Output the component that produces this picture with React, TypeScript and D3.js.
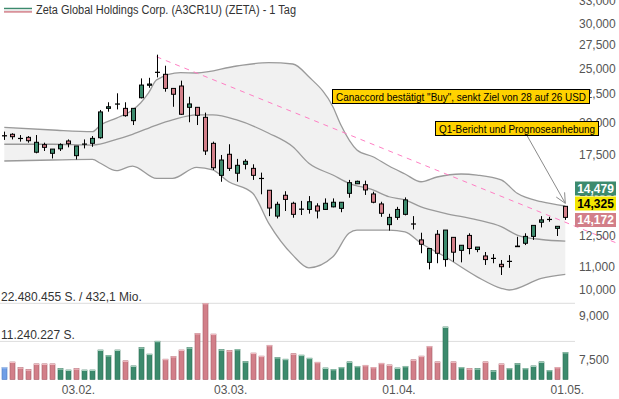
import React from 'react';
import * as d3 from 'd3';

const title = 'Zeta Global Holdings Corp. (A3CR1U) (ZETA) - 1 Tag';

const dates = [
  '21.01.', '22.01.', '23.01.', '24.01.', '27.01.', '28.01.', '29.01.', '30.01.', '31.01.',
  '03.02.', '04.02.', '05.02.', '06.02.', '07.02.', '10.02.', '11.02.', '12.02.', '13.02.', '14.02.',
  '18.02.', '19.02.', '20.02.', '21.02.', '24.02.', '25.02.', '26.02.', '27.02.', '28.02.',
  '03.03.', '04.03.', '05.03.', '06.03.', '07.03.', '10.03.', '11.03.', '12.03.', '13.03.', '14.03.',
  '17.03.', '18.03.', '19.03.', '20.03.', '21.03.', '24.03.', '25.03.', '26.03.', '27.03.', '28.03.', '31.03.',
  '01.04.', '02.04.', '03.04.', '04.04.', '07.04.', '08.04.', '09.04.', '10.04.', '11.04.', '14.04.',
  '15.04.', '16.04.', '17.04.', '21.04.', '22.04.', '23.04.', '24.04.', '25.04.', '28.04.', '29.04.', '30.04.',
  '01.05.',
];

const opens = [
  18.92, 19.03, 18.71, 18.79, 17.67, 18.23, 17.59, 17.92, 18.51, 17.42,
  18.27, 18.33, 18.76, 21.18, 21.56, 21.18, 20.13, 22.13, 23.30, 24.57,
  24.38, 23.00, 23.23, 21.27, 21.27, 20.41, 18.33, 16.06, 17.52, 16.20,
  16.81, 16.53, 15.86, 15.10, 13.57, 14.79, 14.31, 13.96, 13.95, 14.15,
  13.95, 14.10, 14.01, 14.91, 15.51, 15.45, 14.87, 14.27, 13.10, 13.50,
  13.67, 13.14, 12.30, 11.21, 12.59, 11.34, 12.43, 11.78, 12.53, 11.82,
  11.51, 11.40, 11.12, 11.25, 11.96, 12.13, 12.48, 13.23, 13.38, 12.90,
  14.13,
];
const highs = [
  19.24, 19.11, 18.97, 18.89, 18.97, 18.38, 17.90, 18.33, 18.63, 18.13,
  18.63, 18.89, 21.04, 21.72, 22.54, 21.72, 21.18, 23.97, 24.03, 26.44,
  25.26, 23.00, 23.75, 22.22, 21.30, 20.81, 18.46, 17.47, 18.26, 17.19,
  17.17, 16.81, 16.24, 15.10, 14.40, 15.04, 14.40, 14.45, 14.74, 14.31,
  14.60, 14.60, 14.37, 15.76, 15.71, 15.71, 15.01, 14.40, 13.70, 14.10,
  14.66, 13.57, 12.67, 11.87, 12.81, 12.81, 12.43, 12.03, 12.64, 11.94,
  11.70, 11.60, 11.32, 11.55, 12.46, 12.64, 13.06, 13.57, 13.53, 13.01,
  14.13,
];
const lows = [
  18.59, 18.63, 18.46, 18.38, 17.59, 17.76, 17.22, 17.76, 18.03, 17.15,
  17.95, 18.07, 18.68, 20.89, 21.09, 20.46, 19.77, 22.07, 23.06, 24.07,
  22.69, 21.32, 20.61, 20.00, 19.77, 17.47, 16.42, 15.64, 16.35, 15.64,
  16.46, 15.76, 14.85, 13.57, 13.44, 13.86, 13.48, 13.63, 13.71, 13.44,
  13.92, 14.07, 13.79, 14.64, 15.50, 14.81, 14.31, 13.53, 12.78, 13.36,
  13.61, 12.84, 11.64, 10.89, 11.17, 11.01, 11.24, 11.21, 11.59, 11.69,
  11.09, 11.17, 10.64, 10.96, 11.95, 12.04, 12.30, 12.95, 13.26, 12.50,
  13.36,
];
const closes = [
  18.90, 18.84, 18.70, 18.53, 18.41, 18.03, 17.90, 18.23, 18.30, 18.13,
  18.28, 18.71, 20.87, 21.32, 21.57, 20.55, 21.18, 23.32, 23.42, 24.59,
  23.00, 22.45, 20.67, 21.57, 20.58, 17.76, 16.57, 17.11, 16.53, 16.74,
  17.02, 16.06, 15.85, 14.03, 14.25, 14.54, 13.67, 13.97, 14.40, 13.86,
  14.31, 14.37, 14.37, 15.58, 15.67, 15.12, 14.37, 13.73, 13.50, 13.95,
  14.51, 13.13, 12.08, 11.87, 11.64, 12.81, 11.69, 12.03, 11.87, 11.94,
  11.34, 11.39, 11.01, 11.26, 11.99, 12.48, 13.06, 13.36, 13.39, 13.01,
  13.50,
];

// volume in millions of shares
const volumes = [
  3.6, 5.16, 3.5, 2.9, 4.6, 4.6, 4.6, 3.2, 2.8, 3.2,
  2.8, 2.8, 8.7, 7.1, 8.7, 5.5, 4.0, 9.4, 7.5, 11.3,
  6.0, 6.8, 8.7, 9.4, 13.6, 22.48, 13.4, 8.8, 8.5, 8.9,
  5.3, 7.8, 6.9, 10.1, 6.5, 6.0, 7.6, 7.2, 6.3, 5.1,
  3.4, 3.0, 3.6, 5.2, 3.9, 4.2, 3.6, 4.8, 4.3, 3.4,
  3.9, 5.8, 6.9, 9.8, 5.2, 15.5, 5.2, 3.6, 3.2, 3.2,
  5.2, 2.6, 4.6, 3.3, 4.7, 3.3, 4.0, 5.2, 2.7, 3.6,
  8.0,
];
const volDir = [
  'n', 'd', 'd', 'd', 'd', 'd', 'd', 'u', 'u', 'd',
  'u', 'u', 'u', 'u', 'u', 'd', 'u', 'u', 'u', 'u',
  'd', 'd', 'd', 'u', 'd', 'd', 'd', 'u', 'd', 'u',
  'u', 'd', 'd', 'd', 'u', 'u', 'd', 'u', 'u', 'd',
  'u', 'u', 'u', 'u', 'u', 'd', 'd', 'd', 'd', 'u',
  'u', 'd', 'd', 'd', 'd', 'u', 'd', 'u', 'd', 'u',
  'd', 'u', 'd', 'u', 'u', 'u', 'u', 'u', 'u', 'd',
  'u',
];
const volMax = 22480455;
const volHalf = 11240227;
const turnoverLabel = '432,1 Mio.';

// Bollinger bands: [bar index, price]
const upperBand: [number, number][] = [
  [0, 19.58], [6, 19.37], [11, 19.24], [12, 19.77], [14, 20.35], [16, 21.04], [17, 21.66],
  [18, 22.57], [19, 23.82], [22, 24.54], [24, 24.51], [29, 25.23], [33, 25.58], [36, 25.44],
  [38, 24.13], [41, 21.32], [42, 19.77], [44, 17.84], [46, 17.34], [48, 16.69], [50, 16.15],
  [52, 15.64], [54, 15.95], [57, 16.15], [59, 16.08], [62, 15.76], [64, 14.91], [67, 14.40],
  [70, 14.15],
];
const middleBand: [number, number][] = [
  [0, 18.26], [6, 18.26], [11, 18.20], [14, 18.63], [16, 19.03], [19, 19.77], [21, 20.19],
  [24, 20.61], [26, 20.61], [29, 20.19], [33, 19.11], [36, 18.07], [38, 16.88], [41, 16.08],
  [43, 15.54], [46, 15.12], [48, 14.70], [50, 14.51], [52, 14.10], [55, 13.73], [59, 13.36],
  [62, 12.99], [64, 12.55], [67, 12.32], [70, 12.24],
];
const lowerBand: [number, number][] = [
  [0, 17.04], [6, 17.11], [11, 17.15], [12, 16.88], [14, 16.37], [16, 16.69], [19, 15.86],
  [21, 15.86], [24, 16.60], [26, 16.42], [28, 15.64], [31, 14.91], [33, 13.17], [36, 11.55],
  [38, 10.96], [41, 11.47], [43, 12.64], [44, 12.81], [48, 12.81], [50, 12.71], [52, 12.13],
  [55, 11.47], [59, 10.56], [62, 10.07], [63, 10.0], [67, 10.49], [70, 10.67],
];

const trendPts: [number, number][] = [[19, 26.21], [70, 13.23]];

const priceTicks = [33, 30, 27.5, 25, 22.5, 20, 17.5, 15, 12.5, 11, 10, 9, 7.5];
const xTickDates = ['03.02.', '03.03.', '01.04.', '01.05.'];

const annotations = [
  { text: 'Canaccord bestätigt "Buy", senkt Ziel von 28 auf 26 USD' },
  { text: 'Q1-Bericht und Prognoseanhebung' },
];
const quoteLabels = [
  { value: 14.479, kind: 'bid' },
  { value: 14.325, kind: 'last' },
  { value: 14.172, kind: 'ask' },
];

const de = d3.formatLocale({ decimal: ',', thousands: '.', grouping: [3], currency: ['', '€'] });
const fmtPrice = de.format(',.3f');
const fmtInt = de.format(',.0f');

const FONT = 'Arial, "Liberation Sans", Helvetica, sans-serif';
const GREEN = '#3c8a6d';
const PINK = '#d27f89';

export default function App() {
  const W = 619;
  const H = 399;
  const x = d3.scalePoint<string>().domain(dates).range([4.3, 565.3]);
  const y = d3.scaleLog().domain([10, 30]).range([290, 24.1]);
  const yv = d3.scaleLinear().domain([0, volMax / 1e6]).range([379.5, 303.3]);

  const xi = (i: number) => x(dates[i]) as number;

  const line = d3
    .line<[number, number]>()
    .x((d) => xi(d[0]))
    .y((d) => y(d[1]))
    .curve(d3.curveMonotoneX);

  const upperPath = line(upperBand) || '';
  const lowerPath = line(lowerBand) || '';
  const lowerRev = line([...lowerBand].reverse()) || '';
  const areaPath = upperPath + lowerRev.replace(/^M/, 'L') + 'Z';
  const middlePath = line(middleBand) || '';

  const tx1 = xi(trendPts[0][0]);
  const ty1 = y(trendPts[0][1]);
  const tx2 = xi(trendPts[1][0]);
  const ty2 = y(trendPts[1][1]);
  const txEnd = W;
  const tyEnd = ty1 + ((ty2 - ty1) / (tx2 - tx1)) * (txEnd - tx1);

  const lastY = y(quoteLabels[1].value);
  const labelBoxes = [
    { top: lastY - 21.5, fill: GREEN, color: '#fff' },
    { top: lastY - 6.5, fill: '#f2e600', color: '#000' },
    { top: lastY + 10, fill: PINK, color: '#fff' },
  ];

  const lastIdx = dates.length - 1;
  const arrowTipX = xi(lastIdx);
  const arrowTipY = y(highs[lastIdx]) - 3;
  const arrowStartX = 527;
  const arrowStartY = 135.5;
  const ang = Math.atan2(arrowTipY - arrowStartY, arrowTipX - arrowStartX);
  const ah = 11;
  const aw = 0.45;

  return (
    <svg
      width={W}
      height={H}
      style={{ position: 'absolute', left: 0, top: 0, background: '#fff', fontFamily: FONT }}
    >
      {/* title & legend */}
      <line x1={4} x2={32} y1={8.5} y2={8.5} stroke={GREEN} strokeWidth={1.5} />
      <line x1={4} x2={32} y1={10.2} y2={10.2} stroke="#e6e6e6" strokeWidth={1.5} />
      <line x1={4} x2={32} y1={11.9} y2={11.9} stroke={PINK} strokeWidth={1.5} />
      <text x={36} y={13.5} fontSize={12} fill="#333" textLength={260} lengthAdjust="spacingAndGlyphs">
        {title}
      </text>

      {/* Bollinger band */}
      <path d={areaPath} fill="#f1f1f1" stroke="none" />
      <path d={upperPath} fill="none" stroke="#9a9a9a" strokeWidth={1.3} />
      <path d={lowerPath} fill="none" stroke="#9a9a9a" strokeWidth={1.3} />
      <path d={middlePath} fill="none" stroke="#9a9a9a" strokeWidth={1.3} />

      {/* trendline */}
      <line
        x1={tx1}
        y1={ty1}
        x2={txEnd}
        y2={tyEnd}
        stroke="#ff7fc4"
        strokeWidth={1}
        strokeDasharray="5,5"
      />

      {/* volume grid */}
      <line x1={0} x2={575} y1={yv(volMax / 1e6)} y2={yv(volMax / 1e6)} stroke="#dddddd" />
      <line x1={0} x2={575} y1={yv(volHalf / 1e6)} y2={yv(volHalf / 1e6)} stroke="#dddddd" />
      <text x={1} y={yv(volMax / 1e6) - 2} fontSize={12} fill="#333">
        {`${fmtInt(volMax)} S. / ${turnoverLabel}`}
      </text>
      <text x={1} y={yv(volHalf / 1e6) - 2} fontSize={12} fill="#333">
        {`${fmtInt(volHalf)} S.`}
      </text>

      {/* volume bars */}
      {volumes.map((v, i) => {
        const cx = Math.round(xi(i));
        const top = yv(v);
        const base = yv(0);
        const dir = volDir[i];
        const fill = dir === 'u' ? GREEN : dir === 'd' ? PINK : '#6f9ee6';
        const stroke = dir === 'u' ? '#2c6e55' : dir === 'd' ? '#a65a64' : '#4a78c0';
        const cap = dir === 'u' ? '#a9d3c0' : dir === 'd' ? '#f2c0c6' : '#b8d0f4';
        return (
          <g key={'v' + i}>
            <rect x={cx - 2} y={top} width={5} height={base - top} fill={fill} stroke={stroke} strokeWidth={0.6} />
            <rect x={cx - 2} y={top} width={5} height={1} fill={cap} />
          </g>
        );
      })}

      {/* candles */}
      {dates.map((d, i) => {
        const cx = Math.round(xi(i)) + 0.5;
        const o = opens[i];
        const c = closes[i];
        const yo = y(o);
        const yc = y(c);
        const top = Math.min(yo, yc);
        const bot = Math.max(yo, yc);
        const up = c >= o;
        return (
          <g key={'c' + i}>
            <line x1={cx} x2={cx} y1={y(highs[i])} y2={y(lows[i])} stroke="#000" strokeWidth={1} />
            <rect
              x={cx - 2}
              y={top}
              width={4}
              height={Math.max(0.2, bot - top)}
              fill={up ? GREEN : PINK}
              stroke="#000"
              strokeWidth={1}
            />
          </g>
        );
      })}

      {/* arrow from annotation */}
      <line x1={arrowStartX} y1={arrowStartY} x2={arrowTipX} y2={arrowTipY} stroke="#8a8a8a" strokeWidth={1} />
      <polyline
        points={`${arrowTipX - ah * Math.cos(ang - aw)},${arrowTipY - ah * Math.sin(ang - aw)} ${arrowTipX},${arrowTipY} ${
          arrowTipX - ah * Math.cos(ang + aw)
        },${arrowTipY - ah * Math.sin(ang + aw)}`}
        fill="none"
        stroke="#8a8a8a"
        strokeWidth={1}
      />

      {/* price axis labels */}
      {priceTicks.map((p) => (
        <text key={'t' + p} x={579} y={y(p)} dy="0.36em" fontSize={12} fill="#555">
          {fmtPrice(p)}
        </text>
      ))}

      {/* x axis labels */}
      {xTickDates.map((d) => (
        <text key={'x' + d} x={(x(d) as number) + 2} y={394} fontSize={12} fill="#555" textAnchor="middle">
          {d}
        </text>
      ))}

      {/* annotations */}
      <rect x={332.5} y={89.5} width={257} height={14} fill="#ffd200" stroke="#000" />
      <text x={336} y={100.5} fontSize={11.5} fill="#000" textLength={250} lengthAdjust="spacingAndGlyphs">
        {annotations[0].text}
      </text>
      <rect x={435.5} y={121.5} width={163} height={14} fill="#ffd200" stroke="#000" />
      <text x={439} y={132.5} fontSize={11.5} fill="#000" textLength={156} lengthAdjust="spacingAndGlyphs">
        {annotations[1].text}
      </text>

      {/* quote labels */}
      {quoteLabels.map((q, k) => (
        <g key={'q' + k}>
          <rect x={575} y={labelBoxes[k].top} width={41} height={14} fill={labelBoxes[k].fill} />
          <text
            x={595.5}
            y={labelBoxes[k].top + 7}
            dy="0.36em"
            fontSize={12}
            fontWeight="bold"
            fill={labelBoxes[k].color}
            textAnchor="middle"
          >
            {fmtPrice(q.value)}
          </text>
        </g>
      ))}
    </svg>
  );
}
